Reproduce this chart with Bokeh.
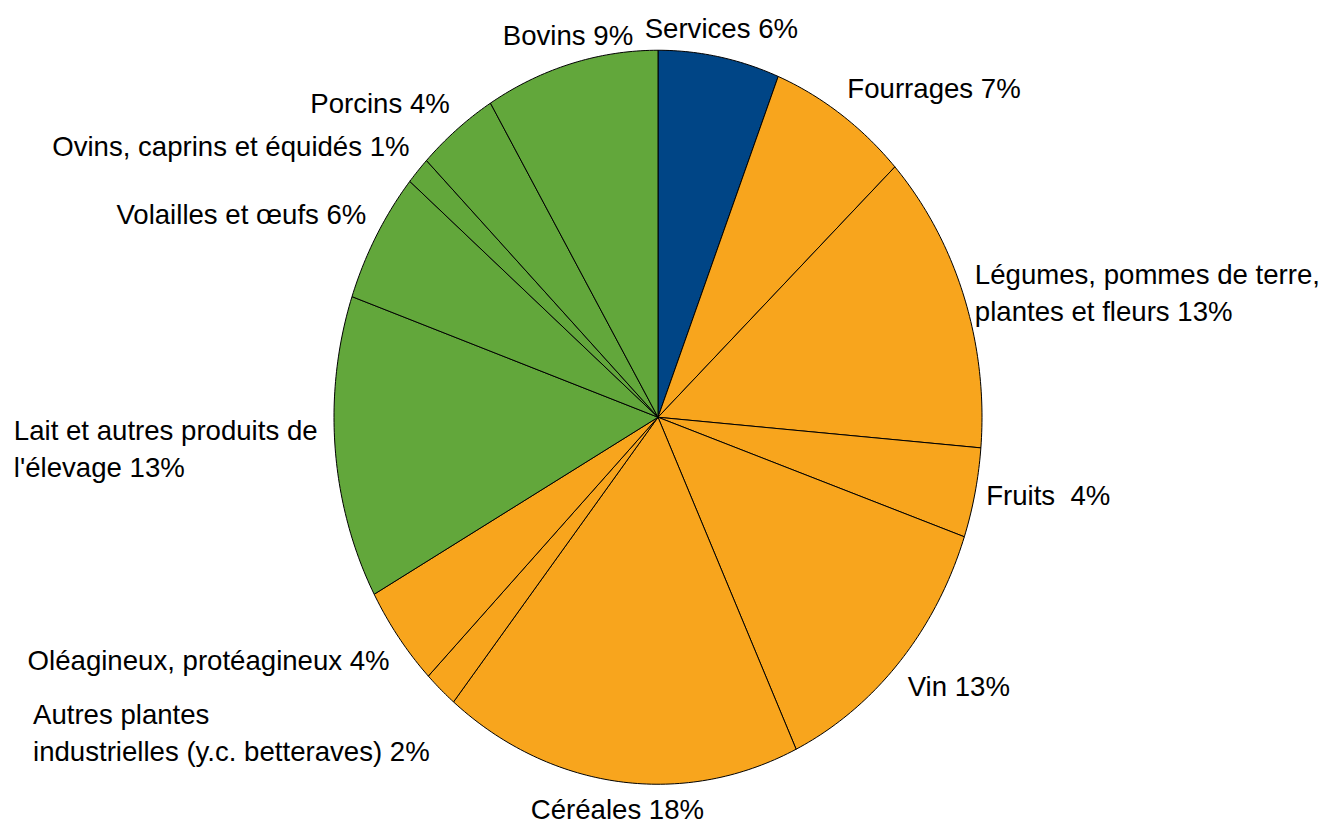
import numpy as np
from bokeh.plotting import figure
from bokeh.models import Range1d
from bokeh.core.properties import value
from bokeh.embed import file_html
from bokeh.resources import INLINE

# ---- data (clockwise from 12 o'clock) ----
categories = [
    "Services",
    "Fourrages",
    "Légumes, pommes de terre,\nplantes et fleurs",
    "Fruits\u00a0",
    "Vin",
    "Céréales",
    "Autres plantes\nindustrielles (y.c. betteraves)",
    "Oléagineux, protéagineux",
    "Lait et autres produits de\nl'élevage",
    "Volailles et œufs",
    "Ovins, caprins et équidés",
    "Porcins",
    "Bovins",
]
shares = [6.05, 7.0, 13.28, 3.95, 12.71, 17.88, 1.67, 4.45, 13.34, 5.78, 1.22, 4.02, 8.65]
groups = ["services", "vegetal", "vegetal", "vegetal", "vegetal", "vegetal", "vegetal",
          "vegetal", "animal", "animal", "animal", "animal", "animal"]

group_colors = {"services": "#004586", "vegetal": "#F8A51D", "animal": "#62A73B"}

# ---- layout (pixels) ----
W, H = 1324, 824
CX, CY = 657.5, 416.75     # ellipse centre inside the figure
RX, RY = 324.0, 367.0      # pixel radii
x0 = -CX / RX
x1 = (W - CX) / RX
y1 = CY / RY
y0 = -(H - CY) / RY

p = figure(width=W, height=H, x_range=Range1d(x0, x1), y_range=Range1d(y0, y1),
           output_backend="svg", toolbar_location=None, tools="", min_border=0)
p.axis.visible = False
p.grid.visible = False
p.outline_line_color = None
p.background_fill_color = "white"
p.border_fill_color = "white"

vals = np.array(shares, dtype=float)
frac = vals / vals.sum()
ends = np.cumsum(frac) * 2 * np.pi
starts = ends - frac * 2 * np.pi

xs, ys, cols = [], [], []
for s, e, g in zip(starts, ends, groups):
    t = np.linspace(s, e, max(8, int(400 * (e - s) / (2 * np.pi)) + 8))
    xs.append([0.0] + list(np.sin(t)))
    ys.append([0.0] + list(np.cos(t)))
    cols.append(group_colors[g])

p.patches(xs, ys, fill_color=cols, line_color="black", line_width=1)

# ---- labels ----
K = 1.035
multi_width = {6: 400, 8: 310}
for i, (name, v) in enumerate(zip(categories, shares)):
    mid = (starts[i] + ends[i]) / 2
    sx, cy = np.sin(mid), np.cos(mid)
    txt = f"{name} {round(v)}%"
    if abs(sx) < 0.3:
        align = "center"
    elif sx > 0:
        align = "left"
    else:
        align = "right"
    if cy > 0.35:
        base = "bottom"
    elif cy < -0.35:
        base = "top"
    else:
        base = "middle"
    xoff = 0
    if align == "right" and i in multi_width:
        align = "left"
        xoff = -multi_width[i]
    p.text(x=[K * sx], y=[K * cy], text=[txt], text_align=align, text_baseline=base,
           x_offset=xoff, text_font=value("Liberation Sans"), text_font_size="27.6px",
           text_color="black", text_line_height=1.2)

open("out.html", "w").write(file_html(p, INLINE))
